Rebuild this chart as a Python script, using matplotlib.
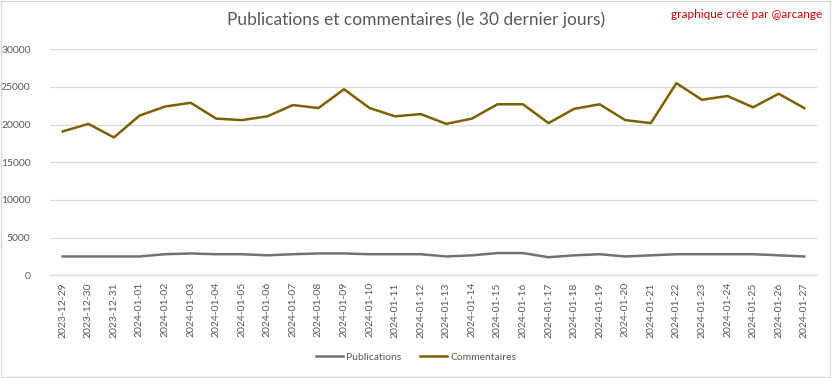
import numpy as np
import matplotlib.pyplot as plt

plt.rcParams['font.family'] = ['Lato', 'DejaVu Sans']

# Data
dates = ['2023-12-29', '2023-12-30', '2023-12-31', '2024-01-01', '2024-01-02',
         '2024-01-03', '2024-01-04', '2024-01-05', '2024-01-06', '2024-01-07',
         '2024-01-08', '2024-01-09', '2024-01-10', '2024-01-11', '2024-01-12',
         '2024-01-13', '2024-01-14', '2024-01-15', '2024-01-16', '2024-01-17',
         '2024-01-18', '2024-01-19', '2024-01-20', '2024-01-21', '2024-01-22',
         '2024-01-23', '2024-01-24', '2024-01-25', '2024-01-26', '2024-01-27']
publications = [2500, 2500, 2500, 2500, 2800, 2900, 2800, 2800, 2650, 2800,
                2900, 2900, 2800, 2800, 2800, 2500, 2650, 2950, 2950, 2400,
                2650, 2800, 2500, 2650, 2800, 2800, 2800, 2800, 2650, 2500]
commentaires = [19100, 20100, 18300, 21200, 22400, 22900, 20800, 20600, 21100, 22600,
                22200, 24700, 22200, 21100, 21400, 20100, 20800, 22700, 22700, 20200,
                22100, 22700, 20600, 20200, 25500, 23300, 23800, 22300, 24100, 22200]

text_grey = '#595959'

fig = plt.figure(figsize=(8.32, 3.78), dpi=100)
ax = fig.add_axes([50 / 832, 1 - 275.3 / 378, (817 - 50) / 832, (275.3 - 49.3) / 378])

x = np.arange(len(dates))
ax.plot(x, publications, color='#767171', linewidth=1.8, label='Publications')
ax.plot(x, commentaires, color='#7F6000', linewidth=1.8, label='Commentaires')

ax.set_xlim(-0.5, len(dates) - 0.5)
ax.set_ylim(0, 30000)
ax.set_yticks(range(0, 30001, 5000))
ax.set_xticks(x)
ax.set_xticklabels(dates, rotation=90, fontsize=7.5, color=text_grey)
ax.tick_params(axis='y', labelsize=7.5, labelcolor=text_grey, length=0, pad=14)
ax.tick_params(axis='x', length=0, pad=5)
ax.grid(axis='y', color='#D9D9D9', linewidth=0.9)
ax.set_axisbelow(True)
for s in ['top', 'right', 'left']:
    ax.spines[s].set_visible(False)
ax.spines['bottom'].set_color('#D9D9D9')
ax.spines['bottom'].set_linewidth(0.9)

fig.text(0.5, 1 - 20 / 378, 'Publications et commentaires (le 30 dernier jours)',
         ha='center', va='center', fontsize=12.5, color=text_grey)
fig.text(1 - 10 / 832, 1 - 15 / 378, 'graphique créé par @arcange',
         ha='right', va='center', fontsize=8.5, color='#CC0000')

fig.legend(loc='center', bbox_to_anchor=(0.5, 1 - 357 / 378), ncol=2, frameon=False,
           fontsize=7.5, labelcolor=text_grey, handlelength=2.6, handletextpad=0.3,
           columnspacing=1.8)

# light chart border
fig.patches.append(plt.Rectangle((0.001, 0.002), 0.997, 0.996, transform=fig.transFigure,
                                 fill=False, edgecolor='#D9D9D9', linewidth=1))

fig.savefig('out.png', dpi=100)
